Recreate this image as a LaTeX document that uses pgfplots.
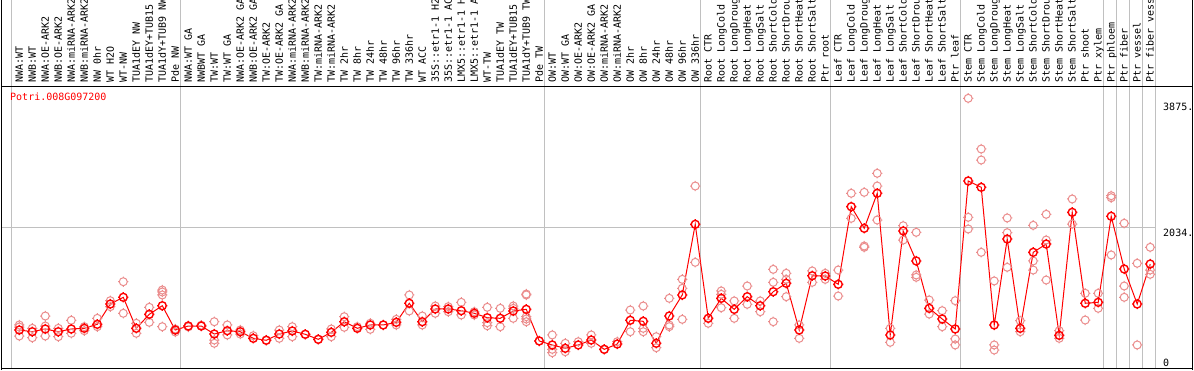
\documentclass[border=0pt]{standalone}
\usepackage{pgfplots}
\pgfplotsset{compat=1.18}
\usepackage{fontspec}
\newfontfamily\monofont{DejaVu Sans Mono}
\definecolor{gridgrey}{RGB}{192,192,192}
\definecolor{reppink}{RGB}{235,140,140}
\pgfdeclareplotmark{gear}{%
  \pgfpathcircle{\pgfpointorigin}{\pgfplotmarksize}%
  \pgfpathmoveto{\pgfpoint{0pt}{\pgfplotmarksize}}\pgfpathlineto{\pgfpoint{0pt}{1.28\pgfplotmarksize}}%
  \pgfpathmoveto{\pgfpoint{0pt}{-\pgfplotmarksize}}\pgfpathlineto{\pgfpoint{0pt}{-1.28\pgfplotmarksize}}%
  \pgfpathmoveto{\pgfpoint{\pgfplotmarksize}{0pt}}\pgfpathlineto{\pgfpoint{1.28\pgfplotmarksize}{0pt}}%
  \pgfpathmoveto{\pgfpoint{-\pgfplotmarksize}{0pt}}\pgfpathlineto{\pgfpoint{-1.28\pgfplotmarksize}{0pt}}%
  \pgfusepathqstroke}
\pgfplotstableread{
x y
0 603
0 573
0 441
1 554
1 416
2 735
2 441
2 588
3 554
3 431
4 672
4 481
5 578
5 519
6 701
6 578
7 960
7 872
8 1239
8 775
9 628
9 481
10 863
10 642
11 1117
11 1088
11 1044
11 578
12 544
12 500
13 588
13 575
14 588
14 600
15 651
15 382
15 334
16 603
16 456
17 529
17 470
18 445
19 382
20 529
20 407
21 578
21 431
22 466
23 392
24 544
24 431
25 725
25 569
26 578
27 628
27 539
28 603
29 686
29 603
30 1044
30 809
31 735
31 603
32 882
32 775
33 872
33 798
34 936
34 750
35 798
35 750
36 863
36 637
36 592
37 848
37 578
38 882
38 848
38 701
39 1058
39 1044
39 725
39 691
39 651
40 368
41 456
41 245
41 196
42 334
42 210
43 357
44 456
44 334
45 245
46 357
47 823
47 504
48 882
48 554
48 504
49 431
49 269
50 995
50 603
50 578
51 1274
51 1142
51 686
52 2646
52 1524
53 628
54 1103
54 1054
54 857
55 956
55 701
56 1176
56 907
57 956
57 798
58 1421
58 1230
58 651
59 1363
59 1274
59 1019
60 603
60 407
61 1397
61 1230
62 1363
62 1274
63 1411
63 1029
64 2539
64 2171
65 2553
65 1764
65 1745
66 2833
66 2646
66 2146
67 554
67 348
68 2062
68 1852
69 1965
69 1338
69 1304
70 970
70 764
71 813
71 578
72 960
72 397
72 309
73 3935
73 2186
73 2014
74 3190
74 3028
74 1671
75 1250
75 309
75 235
76 2176
76 1960
76 1451
77 666
77 504
78 2068
78 1544
78 1411
79 2230
79 1852
79 1264
80 519
80 407
81 2455
81 2087
82 1069
82 676
83 1069
83 848
84 2503
84 2474
84 1632
85 2098
85 1176
85 1010
86 1510
86 309
87 1745
87 1411
87 1348
}\reps
\pgfplotstableread{
x y
0 529
1 504
2 544
3 504
4 544
5 554
6 613
7 911
8 1010
9 554
10 760
11 886
12 529
13 588
14 588
15 470
16 519
17 504
18 407
19 378
20 470
21 515
22 466
23 392
24 495
25 651
26 554
27 603
28 603
29 642
30 922
31 651
32 838
33 838
34 813
35 775
36 710
37 701
38 809
39 833
40 368
41 309
42 260
43 309
44 382
45 245
46 323
47 672
48 657
49 334
50 735
51 1044
52 2083
53 701
54 995
55 833
56 1019
57 886
58 1092
59 1216
60 529
61 1327
62 1323
63 1201
64 2342
65 2024
66 2539
67 456
68 1985
69 1544
70 848
71 691
72 544
73 2720
74 2627
75 603
76 1867
77 554
78 1671
79 1793
80 451
81 2259
82 922
83 936
84 2201
85 1426
86 911
87 1499
}\means
\begin{document}
\begin{tikzpicture}
\useasboundingbox (0,0) rectangle (1194pt,370pt);
\fill[white] (0,0) rectangle (1194pt,370pt);
% grey separators
\foreach \gx in {11,180.3,544.3,700.3,830.3,960.7,1103,1116,1129,1142.3,1155}
  \draw[gridgrey, line width=1pt] (\gx pt,2pt) -- (\gx pt,372pt);
\draw[gridgrey, line width=1pt] (1.5pt,142.4pt) -- (1156pt,142.4pt);
\begin{axis}[
  at={(1.5pt,2pt)}, anchor=south west, scale only axis,
  width=1191pt, height=282pt,
  xmin=-1.369, xmax=90.25, ymin=-29.4, ymax=4116,
  axis line style={black, line width=1pt},
  clip=false,
  ytick=\empty,
  xtick={0,...,87},
  major tick length=0pt,
  xticklabel pos=right,
  xticklabel shift=3pt,
  xticklabel style={rotate=90, anchor=west, inner sep=0pt, text height=7pt, text depth=0pt,
    font=\monofont\fontsize{10}{12}\selectfont},
  xticklabels={{NWA:WT},{NWB:WT},{NWA:OE-ARK2},{NWB:OE-ARK2},{NWA:miRNA-ARK2},{NWB:miRNA-ARK2},{NW 0hr},{WT H2O},{WT-NW},{TUA1dEY NW},{TUA1dEY+TUB15 NW},{TUA1dY+TUB9 NW},{Pde NW},
  {NWA:WT GA},{NWBWT GA},{TW:WT},{TW:WT GA},{NWA:OE-ARK2 GA},{NWB:OE-ARK2 GA},{TW:OE-ARK2},{TW:OE-ARK2 GA},{NWA:miRNA-ARK2},{NWB:miRNA-ARK2},{TW:miRNA-ARK2},{TW:miRNA-ARK2},{TW 2hr},{TW 8hr},{TW 24hr},{TW 48hr},{TW 96hr},{TW 336hr},{WT ACC},{35S::etr1-1 H2O},{35S::etr1-1 ACC},{LMX5::etr1-1 H2O},{LMX5::etr1-1 ACC},{WT-TW},{TUA1dEY TW},{TUA1dEY+TUB15 TW},{TUA1dY+TUB9 TW},{Pde TW},
  {OW:WT},{OW:WT GA},{OW:OE-ARK2},{OW:OE-ARK2 GA},{OW:miRNA-ARK2},{OW:miRNA-ARK2},{OW 2hr},{OW 8hr},{OW 24hr},{OW 48hr},{OW 96hr},{OW 336hr},
  {Root CTR},{Root LongCold},{Root LongDrought},{Root LongHeat},{Root LongSalt},{Root ShortCold},{Root ShortDrought},{Root ShortHeat},{Root ShortSalt},{Ptr root},
  {Leaf CTR},{Leaf LongCold},{Leaf LongDrought},{Leaf LongHeat},{Leaf LongSalt},{Leaf ShortCold},{Leaf ShortDrought},{Leaf ShortHeat},{Leaf ShortSalt},{Ptr leaf},
  {Stem CTR},{Stem LongCold},{Stem LongDrought},{Stem LongHeat},{Stem LongSalt},{Stem ShortCold},{Stem ShortDrought},{Stem ShortHeat},{Stem ShortSalt},{Ptr shoot},{Ptr xylem},
  {Ptr phloem},{Ptr fiber},{Ptr vessel},{Ptr fiber vessel}},
]
\addplot[only marks, mark=gear, mark size=4pt, mark options={reppink, line width=1pt}] table[x=x,y=y] {\reps};
\addplot[red, line width=1pt, mark=gear, mark size=4pt, mark options={red, line width=1.4pt}] table[x=x,y=y] {\means};
\end{axis}
\draw[black, line width=1pt] (1.5pt,0pt) -- (1.5pt,372pt);
\draw[black, line width=1pt] (1192.5pt,0pt) -- (1192.5pt,372pt);
\node[anchor=base west, inner sep=0pt, text=red, font=\monofont\fontsize{10}{12}\selectfont] at (10pt,269.3pt) {Potri.008G097200};
\node[anchor=north west, inner sep=0pt, font=\monofont\fontsize{10}{12}\selectfont] at (1163pt,266.7pt) {3875.};
\node[anchor=north west, inner sep=0pt, font=\monofont\fontsize{10}{12}\selectfont] at (1163pt,141pt) {2034.};
\node[anchor=north west, inner sep=0pt, font=\monofont\fontsize{10}{12}\selectfont] at (1163pt,10.7pt) {0};
\end{tikzpicture}
\end{document}
